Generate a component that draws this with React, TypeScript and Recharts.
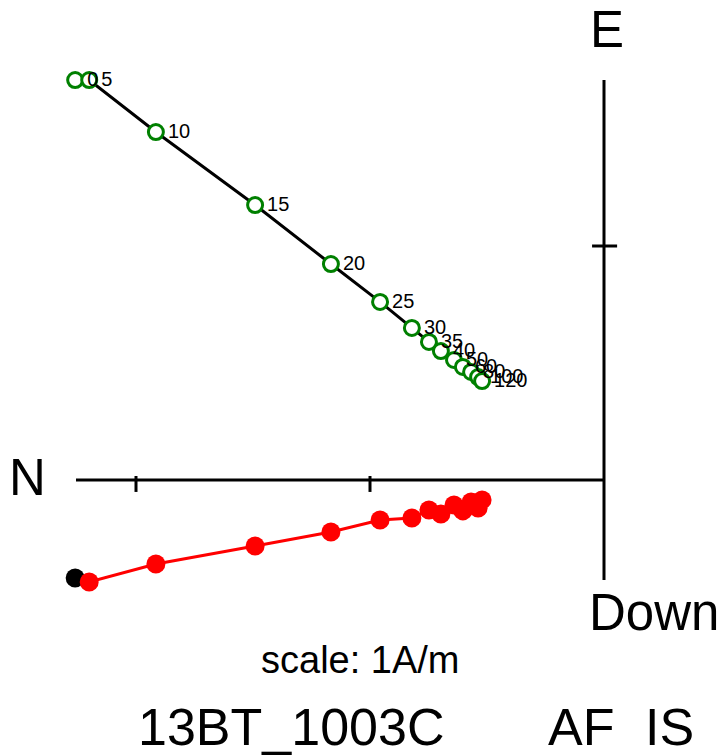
import React from 'react';
import {
  ScatterChart,
  Scatter,
  XAxis,
  YAxis,
  ReferenceLine,
} from 'recharts';

// demag steps and vector components (A/m)
const steps = ['0', '5', '10', '15', '20', '25', '30', '35', '40', '50', '60', '80', '100', '120'];
const north = [2.26, 2.2, 1.915, 1.491, 1.167, 0.957, 0.821, 0.748, 0.697, 0.641, 0.603, 0.568, 0.538, 0.521];
const east = [1.709, 1.709, 1.487, 1.175, 0.923, 0.761, 0.65, 0.59, 0.551, 0.513, 0.483, 0.462, 0.44, 0.423];
const down = [0.419, 0.436, 0.359, 0.282, 0.222, 0.171, 0.162, 0.128, 0.145, 0.107, 0.132, 0.094, 0.12, 0.085];

const axisTicks = [1, 2];

const W = 727;
const H = 756;
const PX = 234; // pixels per A/m
const ORIGIN_X = 604;
const ORIGIN_Y = 480;

const xDomain = [-ORIGIN_X / PX, (W - ORIGIN_X) / PX];
const yDomain = [-(H - ORIGIN_Y) / PX, ORIGIN_Y / PX];

// north points left, east up, down is down
const horizontal = steps.map((s, i) => ({ x: -north[i], y: east[i], label: s }));
const vertical = steps.map((s, i) => ({ x: -north[i], y: -down[i], first: i === 0 }));

const FONT = '"Liberation Sans", Arial, Helvetica, sans-serif';

const GreenCircle = (props: any) => (
  <circle cx={props.cx} cy={props.cy} r={7.5} fill="#fff" stroke="#008000" strokeWidth={3} />
);

const RedDot = (props: any) => (
  <circle cx={props.cx} cy={props.cy} r={9.5} fill={props.payload.first ? '#000' : '#ff0000'} />
);

const StepLabel = (props: any) => (
  <text
    x={props.cx + 12}
    y={props.cy + 6}
    fontSize={20}
    fontFamily={FONT}
    fill="#000"
  >
    {props.payload.label}
  </text>
);

const App: React.FC = () => {
  return (
    <div style={{ position: 'absolute', left: 0, top: 0, width: W, height: H, background: '#fff' }}>
      <ScatterChart width={W} height={H} margin={{ top: 0, right: 0, bottom: 0, left: 0 }}>
        <XAxis type="number" dataKey="x" domain={xDomain} allowDataOverflow hide />
        <YAxis type="number" dataKey="y" domain={yDomain} allowDataOverflow hide />

        <ReferenceLine
          segment={[{ x: -(ORIGIN_X - 76) / PX, y: 0 }, { x: 0, y: 0 }]}
          stroke="#000"
          strokeWidth={3}
        />
        <ReferenceLine
          segment={[{ x: 0, y: (ORIGIN_Y - 80) / PX }, { x: 0, y: -(580 - ORIGIN_Y) / PX }]}
          stroke="#000"
          strokeWidth={3}
        />
        {axisTicks.map((t) => (
          <ReferenceLine
            key={`n${t}`}
            segment={[{ x: -t, y: 0.017 }, { x: -t, y: -0.051 }]}
            stroke="#000"
            strokeWidth={3}
          />
        ))}
        <ReferenceLine
          segment={[{ x: -0.051, y: 1 }, { x: 0.056, y: 1 }]}
          stroke="#000"
          strokeWidth={3}
        />

        <Scatter
          data={horizontal}
          line={{ stroke: '#000', strokeWidth: 3 }}
          shape={GreenCircle}
          isAnimationActive={false}
        />
        <Scatter
          data={vertical}
          line={{ stroke: '#ff0000', strokeWidth: 3 }}
          shape={RedDot}
          isAnimationActive={false}
        />
        <Scatter data={horizontal} shape={StepLabel} isAnimationActive={false} />
      </ScatterChart>

      <svg
        width={W}
        height={H}
        style={{ position: 'absolute', left: 0, top: 0, pointerEvents: 'none' }}
        fontFamily={FONT}
      >
        <text x={607} y={47} fontSize={51} textAnchor="middle">E</text>
        <text x={9} y={495} fontSize={51}>N</text>
        <text x={589} y={630} fontSize={51}>Down</text>
        <text x={261} y={673} fontSize={38}>scale: 1A/m</text>
        <text x={138} y={745} fontSize={52}>13BT_1003C</text>
        <text x={548} y={745} fontSize={52}>AF</text>
        <text x={645} y={745} fontSize={52}>IS</text>
      </svg>
    </div>
  );
};

export default App;
